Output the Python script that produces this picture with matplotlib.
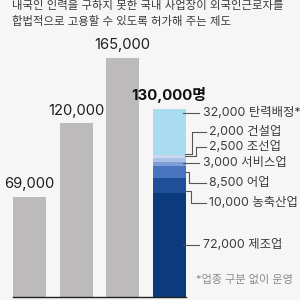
import matplotlib
matplotlib.use("Agg")
import matplotlib.pyplot as plt
import numpy as np

plt.rcParams['font.family'] = ['Inter', 'Noto Sans CJK KR', 'DejaVu Sans']

# ---- data ----
years_values = [69000, 120000, 165000]
value_labels = ["69,000", "120,000", "165,000"]
total_label = "130,000명"
seg_values = [72000, 10000, 8500, 3000, 2500, 2000, 32000]
seg_labels = ["72,000 제조업", "10,000 농축산업", "8,500 어업", "3,000 서비스업",
              "2,500 조선업", "2,000 건설업", "32,000 탄력배정*"]
seg_colors = ["#0b3b7d", "#1f4f98", "#4874c0", "#7e9fd6", "#a9c1e6", "#c9d8ef", "#a9dcef"]
title_lines = ["내국인 인력을 구하지 못한 국내 사업장이 외국인근로자를",
               "합법적으로 고용할 수 있도록 허가해 주는 제도"]
footnote = "*업종 구분 없이 운영"

W = H = 300
bg = "#f6f6f6"
fig = plt.figure(figsize=(3, 3), dpi=100, facecolor=bg)

# axes: baseline at 297px, 1.449 px per 1000
base_px = 297
ppk = 1.449
ax = fig.add_axes([0, (H - base_px) / H, 1, base_px / H])
ax.set_facecolor(bg)
ax.set_ylim(0, base_px / ppk * 1000)
x0px, step = 29.5, 46.5
ax.set_xlim(-x0px / step, (W - x0px) / step)
ax.axis('off')
bw = 33 / step

xs = np.arange(len(years_values))
ax.bar(xs, years_values, width=bw, color="#bcbaba", zorder=2)
for x, v, l in zip(xs, years_values, value_labels):
    ax.annotate(l, (x, v), xytext=(0, 4), textcoords='offset points',
                ha='center', va='bottom', fontsize=10.6, color='#1e1e1e')

sx = len(years_values)
bottom = 0
mids = []
for v, c in zip(seg_values, seg_colors):
    ax.bar(sx, v, bottom=bottom, width=bw, color=c, zorder=2)
    mids.append(bottom + v / 2)
    bottom += v
ax.annotate(total_label, (sx, bottom), xytext=(0, 4), textcoords='offset points',
            ha='center', va='bottom', fontsize=10.8, fontweight='bold', color='#111111')

# baseline
ax.plot([-bw / 2, sx + bw / 2 + 0.02], [0, 0], color='#222222', lw=1.0,
        zorder=3, clip_on=False)

# leader lines + labels (figure pixel layout)
def fx(px):
    return px / W
def fy(py):
    return 1 - py / H

def data_to_py(v):
    return base_px - v * ppk / 1000

label_py = [245, 203, 183, 163, 147, 132, 113]
start_py = [data_to_py(m) for m in mids]
start_py[6] = 113
start_py[5] = 153.5
start_py[4] = 156.5
start_py[1] = 191
elbow_px = [None, 191, 189, None, 196, 192, None]
line_c = '#555555'
for i, lab in enumerate(seg_labels):
    ly = label_py[i]
    sy = start_py[i]
    ex = elbow_px[i]
    if ex is None:
        xsl = [183, 199]
        ysl = [ly, ly]
        tx = 203
    else:
        xsl = [185, ex, ex, 206]
        ysl = [sy, sy, ly, ly]
        tx = 209
    fig.add_artist(plt.Line2D([fx(p) for p in xsl], [fy(p) for p in ysl],
                              color=line_c, lw=0.8, transform=fig.transFigure, zorder=5))
    fig.text(fx(tx), fy(ly), lab, ha='left', va='center', fontsize=8.9, color='#3c3c3c')

fig.text(fx(196), fy(280), footnote, ha='left', va='center', fontsize=8, color='#8a8a8a')

# title
fig.text(fx(12), fy(5.5), title_lines[0], ha='left', va='center', fontsize=8.2, color='#3a3a3a')
fig.text(fx(12), fy(21), title_lines[1], ha='left', va='center', fontsize=8.2, color='#3a3a3a')

fig.savefig("out.png", dpi=100, facecolor=bg)
